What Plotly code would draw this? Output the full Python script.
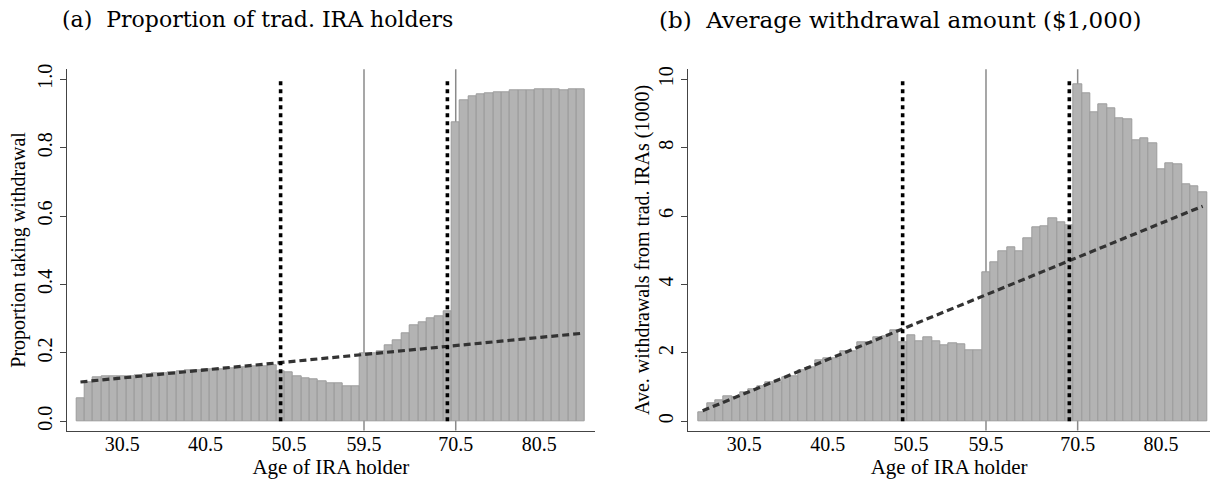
import plotly.graph_objects as go

# ---------------- data ----------------
age_bins = [25.5 + i for i in range(61)]  # bin centres (ages 25.5 ... 85.5)

prop_withdraw = [0.068, 0.113, 0.128, 0.131, 0.131, 0.132, 0.133, 0.135, 0.137, 0.139,
                 0.140, 0.142, 0.145, 0.148, 0.150, 0.151, 0.152, 0.153, 0.155, 0.157,
                 0.159, 0.160, 0.162, 0.165, 0.145, 0.144, 0.132, 0.127, 0.124, 0.118,
                 0.111, 0.111, 0.103, 0.103, 0.200, 0.200, 0.204, 0.222, 0.236, 0.256,
                 0.280, 0.290, 0.300, 0.306, 0.322, 0.875, 0.939, 0.949, 0.956, 0.958,
                 0.961, 0.961, 0.967, 0.967, 0.967, 0.970, 0.970, 0.970, 0.967, 0.970, 0.970]

avg_amount = [0.27, 0.53, 0.60, 0.73, 0.71, 0.84, 0.94, 1.03, 1.13, 1.15,
              1.29, 1.32, 1.48, 1.58, 1.77, 1.83, 1.85, 2.04, 2.04, 2.31,
              2.31, 2.45, 2.48, 2.65, 2.30, 2.51, 2.33, 2.45, 2.35, 2.22,
              2.27, 2.24, 2.09, 2.09, 4.35, 4.65, 4.96, 5.08, 4.96, 5.34,
              5.66, 5.69, 5.94, 5.82, 5.72, 9.86, 9.59, 9.04, 9.28, 9.15,
              8.86, 8.83, 8.22, 8.28, 8.12, 7.36, 7.54, 7.50, 6.93, 6.87, 6.70]

fit_x = [25.5, 85.5]
fit_prop = [0.115, 0.257]
fit_amount = [0.31, 6.29]

policy_ages = [59.5, 70.5]     # solid grey lines
window_ages = [49.5, 69.5]     # dotted lines

x_ticks = [30.5, 40.5, 50.5, 59.5, 70.5, 80.5]
x_tick_text = ["30.5", "40.5", "50.5", "59.5", "70.5", "80.5"]
y_ticks_a = [0, 0.2, 0.4, 0.6, 0.8, 1.0]
y_tick_text_a = ["0.0", "0.2", "0.4", "0.6", "0.8", "1.0"]
y_ticks_b = [0, 2, 4, 6, 8, 10]
y_tick_text_b = ["0", "2", "4", "6", "8", "10"]

titles = ["(a)  Proportion of trad. IRA holders", "(b)  Average withdrawal amount ($1,000)"]
y_titles = ["Proportion taking withdrawal", "Ave. withdrawals from trad. IRAs (1000)"]
x_title = "Age of IRA holder"

# ---------------- figure ----------------
W, H = 1210, 483
FONT = "Liberation Serif"
TITLE_FONT = "DejaVu Serif"
BAR_FILL = "#b3b3b3"
BAR_LINE = "#9c9c9c"
AXIS_COL = "#444444"

fig = go.Figure()

panels = [
    dict(xa="x", ya="y", vals=prop_withdraw, fit=fit_prop, top=1.0),
    dict(xa="x2", ya="y2", vals=avg_amount, fit=fit_amount, top=10.0),
]

for p in panels:
    fig.add_trace(go.Bar(x=age_bins, y=p["vals"], width=1.0,
                         marker=dict(color=BAR_FILL, line=dict(color=BAR_LINE, width=1)),
                         xaxis=p["xa"], yaxis=p["ya"], showlegend=False, hoverinfo="skip"))
    fig.add_trace(go.Scatter(x=fit_x, y=p["fit"], mode="lines",
                             line=dict(color="#333333", width=3.2, dash="7px,4px"),
                             xaxis=p["xa"], yaxis=p["ya"], showlegend=False, hoverinfo="skip"))
    for a in window_ages:
        fig.add_trace(go.Scatter(x=[a, a], y=[0, p["top"]], mode="lines",
                                 line=dict(color="black", width=3.6, dash="4px,4px"),
                                 xaxis=p["xa"], yaxis=p["ya"], showlegend=False, hoverinfo="skip"))
    for a in policy_ages:
        fig.add_shape(type="line", xref=p["xa"], yref=f"{p['ya']} domain",
                      x0=a, x1=a, y0=0, y1=1, layer="below",
                      line=dict(color="#8a8a8a", width=1.5))

y_dom = [(H - 430) / H, (H - 65) / H]
xa_dom = [66.7 / W, 595 / W]
xb_dom = [688.3 / W, 1.0]

common_x = dict(showgrid=False, zeroline=False, showline=True, linecolor=AXIS_COL, linewidth=1,
                ticks="", tickvals=x_ticks, ticktext=x_tick_text, ticklabelstandoff=-5,
                tickfont=dict(family=FONT, size=20, color="black"),
                title=dict(text=x_title, font=dict(family=FONT, size=21, color="black"), standoff=0))
common_y = dict(showgrid=False, zeroline=False, showline=True, linecolor=AXIS_COL, linewidth=1,
                ticks="outside", ticklen=6, tickcolor=AXIS_COL, tickangle=-90,
                tickfont=dict(family=FONT, size=20, color="black"))

fig.update_layout(
    width=W, height=H, margin=dict(l=0, r=0, t=0, b=0),
    plot_bgcolor="white", paper_bgcolor="white", bargap=0,
    xaxis=dict(domain=xa_dom, range=[23.85, 87.2], anchor="y", **common_x),
    xaxis2=dict(domain=xb_dom, range=[23.78, 86.38], anchor="y2", **common_x),
    yaxis=dict(domain=y_dom, range=[-0.0269, 1.029], anchor="x",
               tickvals=y_ticks_a, ticktext=y_tick_text_a,
               title=dict(text=y_titles[0], font=dict(family=FONT, size=20, color="black"), standoff=2),
               **common_y),
    yaxis2=dict(domain=y_dom, range=[-0.269, 10.29], anchor="x2",
                tickvals=y_ticks_b, ticktext=y_tick_text_b,
                title=dict(text=y_titles[1], font=dict(family=FONT, size=20, color="black"), standoff=0),
                **common_y),
    annotations=[
        dict(text=titles[0], x=257 / W, y=1 - 15 / H, xref="paper", yref="paper",
             xanchor="center", yanchor="middle", showarrow=False,
             font=dict(family=TITLE_FONT, size=22, color="black")),
        dict(text=titles[1], x=900 / W, y=1 - 15 / H, xref="paper", yref="paper",
             xanchor="center", yanchor="middle", showarrow=False,
             font=dict(family=TITLE_FONT, size=23, color="black")),
    ],
)

fig.write_html("out.html")
